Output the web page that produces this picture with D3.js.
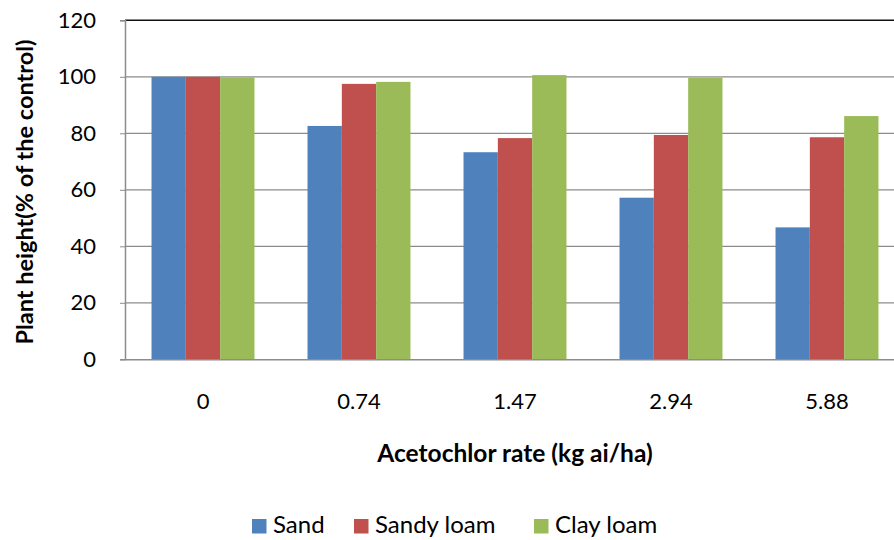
<!DOCTYPE html>
<html><head><meta charset="utf-8">
<script src="https://cdn.jsdelivr.net/npm/d3@7"></script>
<style>body{margin:0;background:#fff}svg{display:block;font-family:Lato,"Open Sans",sans-serif}</style>
</head><body><svg id="c" width="894" height="540"></svg>
<script>
const categories = ["0","0.74","1.47","2.94","5.88"];
const seriesNames = ["Sand","Sandy loam","Clay loam"];
const sand = [100, 82.6, 73.3, 57.2, 46.7];
const sandyLoam = [100, 97.5, 78.3, 79.4, 78.6];
const clayLoam = [99.8, 98.2, 100.6, 99.7, 86.1];
const yTicks = [0,20,40,60,80,100,120];
const colors = ["#4F81BD","#C0504D","#9BBB59"];
const series = [sand, sandyLoam, clayLoam];

(function(){
const svg = d3.select("#c");
const pL = 125, pT = 20.3, pB = 359.3, pR = 905;
const FONT = "Lato, 'Open Sans', sans-serif";
const x = d3.scaleBand().domain(categories).range([pL, pR]).paddingInner(0.34).paddingOuter(0.17);
const xs = d3.scaleBand().domain(seriesNames).range([0, x.bandwidth()]);
const y = d3.scaleLinear().domain([0,120]).range([pB, pT]);

// gridlines
svg.append("g").selectAll("line").data(yTicks.filter(t=>t>0 && t<120)).join("line")
  .attr("x1", pL).attr("x2", pR).attr("y1", d=>y(d)).attr("y2", d=>y(d))
  .attr("stroke","#8c8c8c").attr("stroke-width",1.2);
// top border
svg.append("line").attr("x1",pL).attr("x2",pR).attr("y1",y(120)).attr("y2",y(120))
  .attr("stroke","#111").attr("stroke-width",1.6);

// bars
const g = svg.append("g");
series.forEach((vals,i)=>{
  g.selectAll(null).data(vals).join("rect")
    .attr("x",(d,j)=>x(categories[j])+xs(seriesNames[i]))
    .attr("width",xs.bandwidth())
    .attr("y",d=>y(d)).attr("height",d=>pB-y(d))
    .attr("fill",colors[i]);
});

// axes
const ya = svg.append("g").attr("transform",`translate(${pL},0)`)
  .call(d3.axisLeft(y).tickValues(yTicks).tickSize(5).tickPadding(24));
ya.select(".domain").attr("stroke","#8c8c8c").attr("stroke-width",1.5);
ya.selectAll(".tick line").attr("stroke","#8c8c8c");
ya.selectAll("text").attr("font-size",22).attr("fill","#000").attr("font-family",FONT);

const xa = svg.append("g").attr("transform",`translate(0,${pB})`)
  .call(d3.axisBottom(x).tickSize(0));
xa.select(".domain").attr("stroke","#8c8c8c").attr("stroke-width",1.5);
xa.selectAll("text").attr("font-size",22).attr("fill","#000").attr("font-family",FONT)
  .attr("y",50.2).attr("dy",0);

// titles
svg.append("text").attr("x",515).attr("y",462).attr("text-anchor","middle")
  .attr("font-size",24.5).attr("font-weight","bold").text("Acetochlor rate (kg ai/ha)");
svg.append("text").attr("transform","translate(33,192) rotate(-90)").attr("text-anchor","middle")
  .attr("font-size",23.5).attr("font-weight","bold").text("Plant height(% of the control)");

// legend
const legX = [252, 354, 534];
const lg = svg.append("g");
seriesNames.forEach((n,i)=>{
  lg.append("rect").attr("x",legX[i]).attr("y",519).attr("width",14.5).attr("height",14.5).attr("fill",colors[i]);
  lg.append("text").attr("x",legX[i]+21).attr("y",533).attr("font-size",24).text(n);
});
})();
</script></body></html>
